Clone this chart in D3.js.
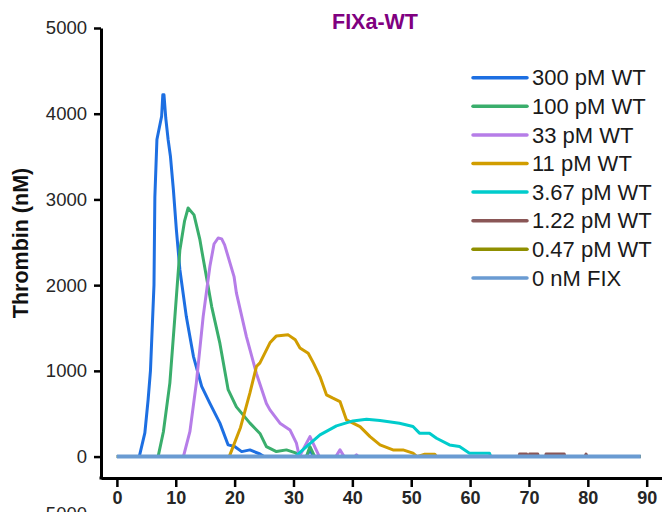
<!DOCTYPE html>
<html>
<head>
<meta charset="utf-8">
<script src="https://cdn.jsdelivr.net/npm/d3@7"></script>
<style>
  body { margin: 0; background: #fff; }
  svg { display: block; font-family: "Liberation Sans", Arial, sans-serif; }
</style>
</head>
<body>
<script>
// thrombin generation, [time (min), thrombin (nM)]
var wt300 = [[0,0],[3.8,0],[4.75,276],[5.3,660],[5.7,1000],[6.3,2000],[6.45,3030],[6.8,3700],[7.6,3970],[7.8,4220],[8.0,4220],[8.3,3950],[8.7,3700],[9.1,3500],[9.6,3110],[10.1,2650],[10.7,2180],[11.8,1630],[13.0,1170],[14.4,820],[15.8,620],[17.5,390],[18.9,136],[20,117],[21.2,58],[22.6,78],[24.3,30],[25,0],[32.2,0],[32.8,78],[33.4,0],[89,0]];
var wt100 = [[0,0],[7.0,0],[7.9,290],[9.0,860],[9.85,1630],[10.7,2410],[11.5,2750],[12.1,2900],[13.1,2820],[14.1,2530],[14.4,2410],[15.2,2100],[16.1,1750],[17.5,1320],[18.9,780],[20.3,580],[22.6,390],[24.3,270],[25.4,117],[27.1,58],[28.8,78],[30.5,40],[31,0],[32.2,0],[32.8,117],[33.6,0],[89,0]];
var wt33 = [[0,0],[11.3,0],[12.4,290],[13.5,860],[14.65,1630],[15.8,2220],[16.5,2480],[17.2,2550],[17.8,2540],[18.3,2470],[19.9,2100],[20.3,1910],[22.0,1400],[23.7,970],[25.4,620],[26,545],[27.7,390],[29.4,311],[30.5,156],[31,0],[32.8,233],[34.4,0],[37.2,0],[37.9,78],[38.6,0],[40.4,0],[40.7,20],[41,0],[89,0]];
var wt11 = [[0,0],[19.0,0],[19.2,20],[21.0,340],[22.6,743],[23.7,1050],[24.3,1093],[26,1327],[27.1,1408],[29.1,1420],[30.3,1362],[31.1,1268],[32.5,1206],[33.4,1090],[34.5,933],[35.6,720],[36.7,681],[37.9,642],[39,428],[41.3,350],[43,233],[44.7,136],[46.9,78],[48.6,78],[50.3,40],[51,0],[52.3,28],[54,28],[54.3,0],[89,0]];
var wt3_67 = [[0,0],[30.3,0],[32.2,117],[34.5,253],[37.3,358],[40.1,416],[42.4,436],[44.7,420],[48,389],[50.3,350],[51.4,273],[53.1,273],[54.3,214],[56.5,136],[58.2,117],[59.9,40],[63.3,40],[63.5,0],[89,0]];
var wt1_22 = [[0,0],[68.3,0],[68.4,30],[69.6,30],[69.7,0],[70.0,0],[70.1,30],[71.5,30],[71.6,0],[72.8,0],[72.9,30],[76,30],[76.1,0],[79.5,0],[79.7,30],[79.9,0],[89,0]];
var wt0_47 = [[0,0],[89,0]];
var noFix = [[0,0],[89,0]];

var seriesNames = ['300 pM WT', '100 pM WT', '33 pM WT', '11 pM WT', '3.67 pM WT', '1.22 pM WT', '0.47 pM WT', '0 nM FIX'];
var seriesData = [wt300, wt100, wt33, wt11, wt3_67, wt1_22, wt0_47, noFix];
var seriesColors = ['#1d6fe2', '#3aae6c', '#b67de8', '#d19d00', '#00cccc', '#8a5656', '#8f8f00', '#6a9bd2'];

var xTicks = [0, 10, 20, 30, 40, 50, 60, 70, 80, 90];
var yTicks = [0, 1000, 2000, 3000, 4000, 5000];

var width = 662,
    height = 512;

var svg = d3.select('body').append('svg')
    .attr('width', width)
    .attr('height', height);

var x = d3.scaleLinear().domain([-2.7, 92.6]).range([101, 662]);
var y = d3.scaleLinear().domain([-250, 5000]).range([478, 28]);

// axes
var yAxis = svg.append('g')
    .attr('transform', 'translate(101,0)')
    .call(d3.axisLeft(y).tickValues(yTicks).tickFormat(d3.format('d'))
        .tickSize(7).tickPadding(7).tickSizeOuter(0));

var xAxis = svg.append('g')
    .attr('transform', 'translate(0,478)')
    .call(d3.axisBottom(x).tickValues(xTicks).tickSize(9).tickPadding(4).tickSizeOuter(0));

[yAxis, xAxis].forEach(function (a) {
    a.select('.domain').attr('stroke', '#000').attr('stroke-width', 3);
    a.selectAll('.tick line').attr('stroke', '#000').attr('stroke-width', 2.5);
    a.selectAll('.tick text').attr('fill', '#262626').style('font-size', '18.5px');
});
xAxis.selectAll('.tick text').style('font-weight', 'bold').style('font-size', '18px');

// square off the corner
svg.append('line')
    .attr('x1', 99.5).attr('x2', 103)
    .attr('y1', 478).attr('y2', 478)
    .attr('stroke', '#000').attr('stroke-width', 3);

// lines
var line = d3.line()
    .x(function (d) { return x(d[0]); })
    .y(function (d) { return y(d[1]); });

svg.append('g').selectAll('path')
    .data(seriesData)
    .enter().append('path')
    .attr('d', line)
    .attr('fill', 'none')
    .attr('stroke', function (d, i) { return seriesColors[i]; })
    .attr('stroke-width', function (d, i) { return i === 7 ? 4 : 3; })
    .attr('stroke-linejoin', 'round');

// legend
var legend = svg.append('g').selectAll('g')
    .data(seriesNames)
    .enter().append('g')
    .attr('transform', function (d, i) { return 'translate(473,' + (77.7 + i * 28.6) + ')'; });

legend.append('line')
    .attr('x1', 0).attr('x2', 54)
    .attr('stroke', function (d, i) { return seriesColors[i]; })
    .attr('stroke-width', 3.5)
    .attr('stroke-linecap', 'round');

legend.append('text')
    .attr('x', 59)
    .attr('dy', '0.35em')
    .style('font-size', '22px')
    .attr('fill', '#1a1a1a')
    .text(function (d) { return d; });

// title and axis label
svg.append('text')
    .attr('x', 375).attr('y', 29)
    .attr('text-anchor', 'middle')
    .style('font-size', '21.5px')
    .style('font-weight', 'bold')
    .attr('fill', '#800080')
    .text('FIXa-WT');

svg.append('text')
    .attr('transform', 'translate(28,243) rotate(-90)')
    .attr('text-anchor', 'middle')
    .style('font-size', '21.5px')
    .style('font-weight', 'bold')
    .attr('fill', '#111')
    .text('Thrombin (nM)');

// top tick of the next panel, cut by the frame
svg.append('text')
    .attr('x', 87).attr('y', 520)
    .attr('text-anchor', 'end')
    .style('font-size', '18.5px')
    .attr('fill', '#262626')
    .text('5000');
</script>
</body>
</html>
